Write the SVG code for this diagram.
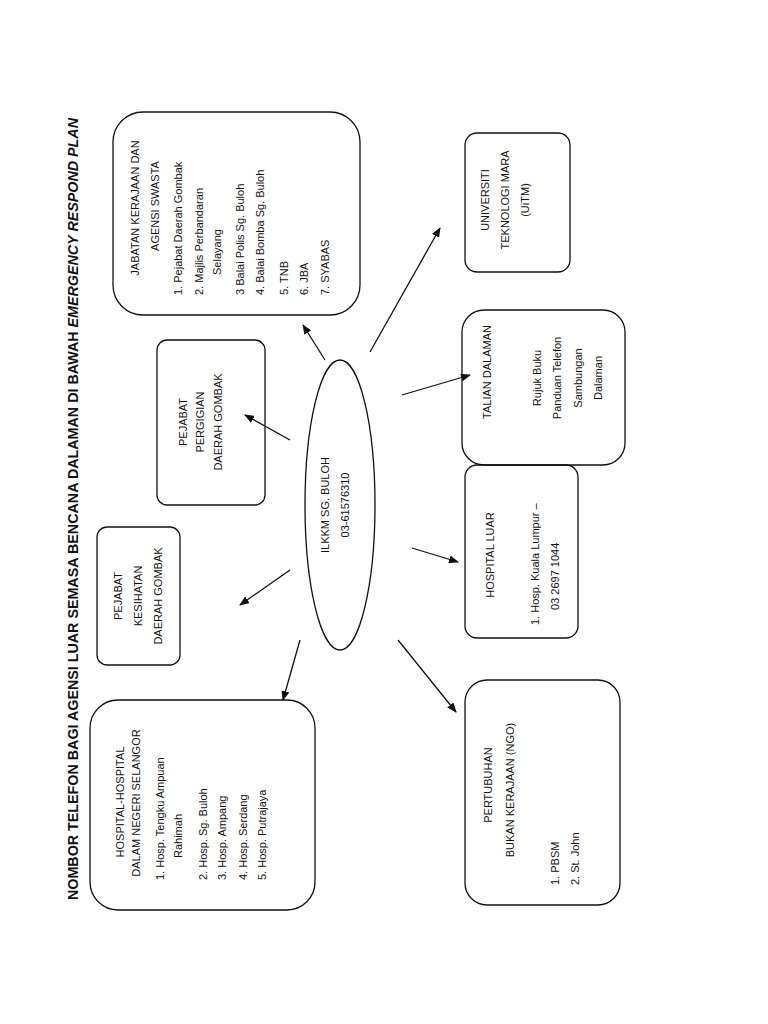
<svg xmlns="http://www.w3.org/2000/svg" width="768" height="1024" viewBox="0 0 768 1024">
<style>
.b{fill:none;stroke:#111;stroke-width:1.3}
.t{font-family:"Liberation Sans",Arial,sans-serif;font-size:11px;fill:#111}
.m{text-anchor:middle}
.c{stroke:#111;stroke-width:1.3;fill:none;marker-end:url(#a)}
</style>
<defs><marker id="a" markerWidth="10" markerHeight="8" refX="9" refY="4" orient="auto" markerUnits="userSpaceOnUse"><path d="M0,0L10,4L0,8z" fill="#111"/></marker></defs>
<rect width="768" height="1024" fill="#fff"/>
<text class="t" transform="translate(78,900) rotate(-90)" style="font-size:15px;font-weight:bold" textLength="782" lengthAdjust="spacingAndGlyphs">NOMBOR TELEFON BAGI AGENSI LUAR SEMASA BENCANA DALAMAN DI BAWAH <tspan font-style="italic">EMERGENCY RESPOND PLAN</tspan></text>
<g id="hospital">
<rect class="b" x="90" y="700" width="225" height="210" rx="28"/>
<text class="t m" transform="translate(124,802) rotate(-90)">HOSPITAL-HOSPITAL</text>
<text class="t m" transform="translate(140,803) rotate(-90)">DALAM NEGERI SELANGOR</text>
<text class="t" transform="translate(164,880) rotate(-90)">1. Hosp. Tengku Ampuan</text>
<text class="t" transform="translate(182,858) rotate(-90)">Rahimah</text>
<text class="t" transform="translate(207,880) rotate(-90)">2. Hosp. Sg. Buloh</text>
<text class="t" transform="translate(226,880) rotate(-90)">3. Hosp. Ampang</text>
<text class="t" transform="translate(247,880) rotate(-90)">4. Hosp. Serdang</text>
<text class="t" transform="translate(266,880) rotate(-90)">5. Hosp. Putrajaya</text>
</g>
<g id="kesihatan">
<rect class="b" x="97" y="527" width="83" height="138" rx="10"/>
<text class="t m" transform="translate(122,596) rotate(-90)">PEJABAT</text>
<text class="t m" transform="translate(142,596) rotate(-90)">KESIHATAN</text>
<text class="t m" transform="translate(162,596) rotate(-90)">DAERAH GOMBAK</text>
</g>
<g id="pergigian">
<rect class="b" x="157" y="340" width="108" height="165" rx="10"/>
<text class="t m" transform="translate(187,422) rotate(-90)">PEJABAT</text>
<text class="t m" transform="translate(204,422) rotate(-90)">PERGIGIAN</text>
<text class="t m" transform="translate(222,422) rotate(-90)">DAERAH GOMBAK</text>
</g>
<g id="jabatan">
<rect class="b" x="113" y="112" width="247" height="203" rx="30"/>
<text class="t m" transform="translate(139,208) rotate(-90)">JABATAN KERAJAAN DAN</text>
<text class="t m" transform="translate(159,206) rotate(-90)">AGENSI SWASTA</text>
<text class="t" transform="translate(182,295) rotate(-90)">1. Pejabat Daerah Gombak</text>
<text class="t" transform="translate(203,295) rotate(-90)">2. Majlis Perbandaran</text>
<text class="t" transform="translate(221,275) rotate(-90)">Selayang</text>
<text class="t" transform="translate(244,295) rotate(-90)">3 Balai Polis Sg. Buloh</text>
<text class="t" transform="translate(264,295) rotate(-90)">4. Balai Bomba Sg. Buloh</text>
<text class="t" transform="translate(288,295) rotate(-90)">5. TNB</text>
<text class="t" transform="translate(308,295) rotate(-90)">6. JBA</text>
<text class="t" transform="translate(329,295) rotate(-90)">7. SYABAS</text>
</g>
<g id="ilkkm">
<ellipse class="b" cx="340" cy="505" rx="35" ry="145"/>
<text class="t m" transform="translate(329,505) rotate(-90)">ILKKM SG. BULOH</text>
<text class="t m" transform="translate(349,505) rotate(-90)">03-61576310</text>
</g>
<g id="uitm">
<rect class="b" x="465" y="133" width="105" height="139" rx="12"/>
<text class="t m" transform="translate(489,200) rotate(-90)">UNIVERSITI</text>
<text class="t m" transform="translate(509,200) rotate(-90)">TEKNOLOGI MARA</text>
<text class="t m" transform="translate(529,200) rotate(-90)">(UiTM)</text>
</g>
<g id="talian">
<rect class="b" x="462" y="310" width="163" height="155" rx="22"/>
<text class="t m" transform="translate(491,372) rotate(-90)">TALIAN DALAMAN</text>
<text class="t m" transform="translate(541,378) rotate(-90)">Rujuk Buku</text>
<text class="t m" transform="translate(561,378) rotate(-90)">Panduan Telefon</text>
<text class="t m" transform="translate(582,378) rotate(-90)">Sambungan</text>
<text class="t m" transform="translate(602,378) rotate(-90)">Dalaman</text>
</g>
<g id="hospitalluar">
<rect class="b" x="465" y="465" width="113" height="173" rx="12"/>
<text class="t m" transform="translate(494,555) rotate(-90)">HOSPITAL LUAR</text>
<text class="t" transform="translate(539,625) rotate(-90)">1. Hosp. Kuala Lumpur –</text>
<text class="t" transform="translate(559,610) rotate(-90)">03 2697 1044</text>
</g>
<g id="ngo">
<rect class="b" x="465" y="680" width="155" height="225" rx="22"/>
<text class="t m" transform="translate(492,785) rotate(-90)">PERTUBUHAN</text>
<text class="t m" transform="translate(514,790) rotate(-90)">BUKAN KERAJAAN (NGO)</text>
<text class="t" transform="translate(559,885) rotate(-90)">1. PBSM</text>
<text class="t" transform="translate(579,885) rotate(-90)">2. St. John</text>
</g>
<g id="connectors">
<line class="c" x1="300" y1="640" x2="283" y2="700"/>
<line class="c" x1="290" y1="570" x2="240" y2="605"/>
<line class="c" x1="290" y1="440" x2="245" y2="415"/>
<line class="c" x1="325" y1="360" x2="303" y2="325"/>
<line class="c" x1="370" y1="352" x2="440" y2="228"/>
<line class="c" x1="402" y1="395" x2="470" y2="375"/>
<line class="c" x1="412" y1="548" x2="458" y2="562"/>
<line class="c" x1="398" y1="640" x2="456" y2="712"/>
</g>
</svg>
